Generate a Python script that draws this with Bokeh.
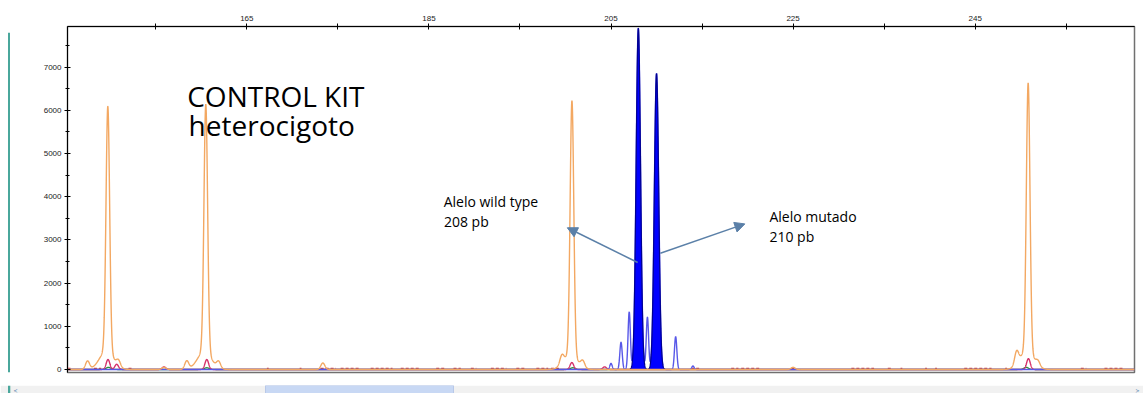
import numpy as np
from bokeh.plotting import figure
from bokeh.layouts import column, row
from bokeh.models import Range1d, FixedTicker, Label, Arrow, NormalHead
from bokeh.embed import file_html
from bokeh.resources import INLINE

# ---------------- data ----------------
# size-standard (orange) fragments, bp and RFU
std_pos = [149.73, 160.49, 200.71, 250.82]
std_height = [6100, 6150, 6230, 6640]
std_base = [430, 420, 330, 420]          # broad base "shoulder" under each spike
# small orange side bumps
orange_bump_pos = [147.5, 150.9, 155.9, 158.4, 161.9, 173.35, 199.6, 201.9, 225.0, 249.55, 251.9]
orange_bump_h = [190, 140, 50, 190, 150, 150, 200, 150, 50, 300, 110]
# blue channel (sample) peaks
blue_pos = [205.0, 206.1, 207.0, 208.0, 209.0, 210.0, 212.1, 214.0]
blue_h = [140, 630, 1330, 7900, 1210, 6850, 760, 80]
blue_called = [False, False, False, True, False, True, False, False]
# pink / red channel
pink_pos = [149.75, 150.7, 155.9, 160.6, 200.7, 204.3, 250.85]
pink_h = [230, 120, 60, 230, 160, 60, 250]
# green channel
green_pos = [149.8, 160.6, 200.8, 250.6]
green_h = [50, 40, 40, 50]
# red baseline noise (start, end in bp)
red_start = [145.3, 148.2, 152.0, 167.2, 170.8, 173.1, 175.3, 178.6, 181.9, 185.8, 187.7, 189.6,
             191.8, 194.6, 196.8, 198.4, 213.8, 218.2, 219.3, 224.8, 231.4, 235.4, 236.8, 239.5,
             240.6, 243.8, 248.3, 256.6, 259.2]
red_end = [145.8, 149.0, 152.5, 167.4, 171.0, 174.8, 177.5, 181.0, 184.1, 186.9, 188.5, 190.2,
           193.5, 195.7, 198.1, 199.5, 214.9, 219.0, 221.5, 225.3, 233.9, 235.8, 237.0, 239.7,
           240.8, 246.8, 248.5, 257.2, 261.4]

y_ticks = [0, 1000, 2000, 3000, 4000, 5000, 6000, 7000]
y_minor = [500, 1500, 2500, 3500, 4500, 5500, 6500, 7500]
x_ticks = [155, 165, 175, 185, 195, 205, 215, 225, 235, 245, 255]
x_labels = {155: "", 165: "165", 175: "", 185: "185", 195: "", 205: "205",
            215: "", 225: "225", 235: "", 245: "245", 255: ""}

X0, X1 = 145.3, 262.5
Y0, Y1 = -70, 7940

# ---------------- traces ----------------
xs = np.linspace(X0, X1, 12000)


def peak(center, height, sigma):
    return height * np.exp(-0.5 * ((xs - center) / sigma) ** 2)


orange = np.zeros_like(xs)
for c, h, b in zip(std_pos, std_height, std_base):
    orange += peak(c, h - b, 0.2) + peak(c - 0.15, b, 0.75)
for c, h in zip(orange_bump_pos, orange_bump_h):
    orange += peak(c, h, 0.22)

blue = np.zeros_like(xs)
for c, h in zip(blue_pos, blue_h):
    blue += peak(c, h, 0.24 if h > 5000 else 0.13)

pink = np.zeros_like(xs)
for c, h in zip(pink_pos, pink_h):
    pink += peak(c, h, 0.2)

green = np.zeros_like(xs)
for c, h in zip(green_pos, green_h):
    green += peak(c, h, 0.25)

# ---------------- main figure ----------------
MAIN_H = 383
p = figure(width=1133, height=MAIN_H, output_backend="svg", toolbar_location=None,
           x_range=Range1d(X0, X1), y_range=Range1d(Y0, Y1),
           x_axis_location="above",
           min_border_left=57, min_border_right=9, min_border_top=26, min_border_bottom=11)
p.background_fill_color = "white"
p.border_fill_color = "white"
p.outline_line_color = "#707070"
p.outline_line_width = 1.5
p.xgrid.visible = False
p.ygrid.visible = False

for ax in (p.xaxis, p.yaxis):
    ax.axis_line_color = "black"
    ax.major_tick_line_color = "black"
    ax.minor_tick_line_color = "black"
    ax.major_label_text_font = "Liberation Sans"
    ax.major_label_text_font_size = "8px"
    ax.major_label_text_color = "#222222"
    ax.major_tick_in = 3
    ax.major_tick_out = 3

p.yaxis.ticker = FixedTicker(ticks=y_ticks, minor_ticks=y_minor)
p.yaxis.minor_tick_in = 2
p.yaxis.minor_tick_out = 2
p.yaxis.major_label_standoff = 3
p.xaxis.ticker = FixedTicker(ticks=x_ticks, minor_ticks=[])
p.xaxis.major_label_overrides = x_labels
p.xaxis.major_label_standoff = 3

# baseline noise
p.segment(x0=red_start, y0=[15] * len(red_start), x1=red_end, y1=[15] * len(red_end),
          line_color="#e0403a", line_width=2.2, line_dash="3 2")

p.line(xs, green, line_color="#2e8b3a", line_width=1.3)
p.line(xs, pink, line_color="#d6336b", line_width=1.4)

# blue sample channel: trace outline and the two called peaks filled
p.line(xs, blue, line_color="#5858e8", line_width=1.4)
for c, h, called in zip(blue_pos, blue_h, blue_called):
    if called:
        yy = peak(c, h, 0.24)
        m = yy > 5
        px = np.concatenate([[xs[m][0]], xs[m], [xs[m][-1]]])
        py = np.concatenate([[0], yy[m], [0]])
        p.patch(px, py, fill_color="#0000ff", line_color="#000090", line_width=1.2)

p.line(xs, orange, line_color="#f3a862", line_width=1.4)

# ---------------- annotations ----------------
txt = dict(text_font="Open Sans", text_color="#000000", text_baseline="alphabetic")
p.add_layout(Label(x=158.45, y=6330, text="CONTROL KIT", text_font_size="28px", **txt))
p.add_layout(Label(x=158.6, y=5670, text="heterocigoto", text_font_size="28px", **txt))
p.add_layout(Label(x=186.62, y=3880, text="Alelo wild type", text_font_size="14px", **txt))
p.add_layout(Label(x=186.65, y=3430, text="208 pb", text_font_size="14px", **txt))
p.add_layout(Label(x=222.4, y=3545, text="Alelo mutado", text_font_size="14px", **txt))
p.add_layout(Label(x=222.4, y=3085, text="210 pb", text_font_size="14px", **txt))

ac = "#5b80a8"
p.add_layout(Arrow(end=NormalHead(size=10, fill_color=ac, line_color=ac),
                   x_start=207.93, y_start=2477, x_end=200.2, y_end=3280,
                   line_color=ac, line_width=1.5))
p.add_layout(Arrow(end=NormalHead(size=10, fill_color=ac, line_color=ac),
                   x_start=210.42, y_start=2692, x_end=219.7, y_end=3370,
                   line_color=ac, line_width=1.5))

# ---------------- window chrome: left border and scrollbar ----------------
side = figure(width=10, height=MAIN_H, output_backend="svg", toolbar_location=None,
              x_range=Range1d(0, 10), y_range=Range1d(MAIN_H, 0),
              min_border=0, outline_line_color=None)
side.axis.visible = False
side.grid.visible = False
side.quad(left=[7.5], right=[9.8], top=[7], bottom=[MAIN_H], fill_color="#4aa79c", line_color=None)

bar = figure(width=1143, height=10, output_backend="svg", toolbar_location=None,
             x_range=Range1d(0, 1143), y_range=Range1d(0, 10),
             min_border=0, outline_line_color=None)
bar.axis.visible = False
bar.grid.visible = False
bar.quad(left=[0], right=[1143], top=[10], bottom=[0], fill_color="#f1f1f1", line_color=None)
bar.quad(left=[7.5], right=[9.8], top=[10], bottom=[0], fill_color="#4aa79c", line_color=None)
bar.quad(left=[265], right=[453], top=[10], bottom=[0], fill_color="#c8d8f4", line_color="#b8c8e8")
bar.text(x=[15, 1137], y=[5, 5], text=["<", ">"], text_color="#3a6ea5",
         text_font="DejaVu Sans", text_font_size="7px", text_font_style="bold",
         text_baseline="middle", text_align="center")

layout = column(row(side, p, spacing=0), bar, spacing=0)
open("out.html", "w").write(file_html(layout, INLINE))
